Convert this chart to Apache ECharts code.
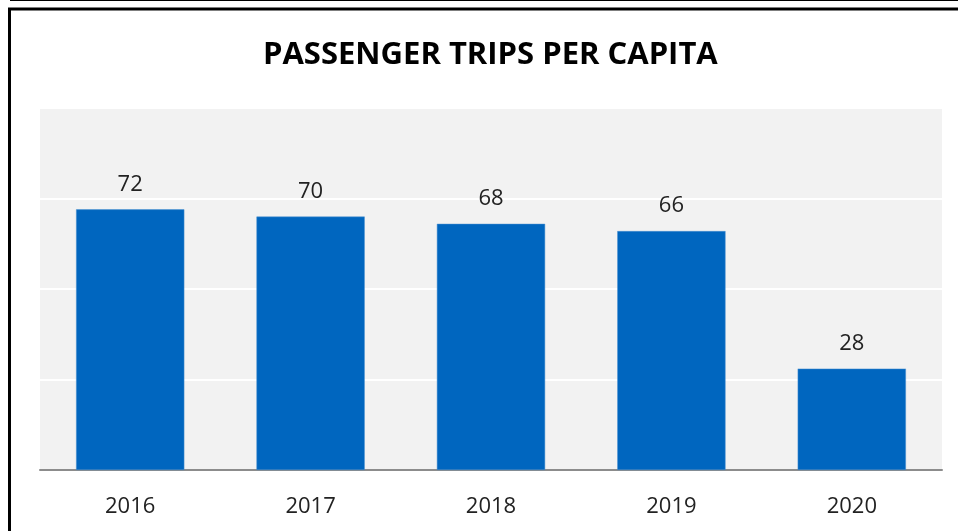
<!DOCTYPE html>
<html>
<head>
<meta charset="utf-8">
<script src="https://cdn.jsdelivr.net/npm/echarts@6/dist/echarts.min.js"></script>
<style>html,body{margin:0;padding:0;background:#fff}#c{width:958px;height:531px}</style>
</head>
<body>
<div id="c"></div>
<script>
const categories = ['2016', '2017', '2018', '2019', '2020'];
const tripsPerCapita = [72, 70, 68, 66, 28];
const titleText = 'PASSENGER TRIPS PER CAPITA';

const chart = echarts.init(document.getElementById('c'), null, {renderer: 'canvas'});
chart.setOption({
  animation: false,
  backgroundColor: '#ffffff',
  title: {
    text: titleText,
    left: 258,
    top: 35,
    textStyle: {fontFamily: 'Open Sans', fontWeight: 'bold', fontSize: 31, color: '#000'}
  },
  graphic: [
    {type: 'line', shape: {x1: 10, y1: 0.5, x2: 958, y2: 0.5}, style: {stroke: '#000', lineWidth: 1}},
    {type: 'line', shape: {x1: 8, y1: 9, x2: 958, y2: 9}, style: {stroke: '#000', lineWidth: 3}},
    {type: 'line', shape: {x1: 9.5, y1: 8, x2: 9.5, y2: 531}, style: {stroke: '#000', lineWidth: 3}}
  ],
  grid: {left: 40, right: 16, top: 108, bottom: 61, show: true, backgroundColor: '#f2f2f2', borderWidth: 0},
  xAxis: {
    type: 'category',
    data: categories,
    axisTick: {show: false},
    axisLine: {show: true, lineStyle: {color: '#8c8c8c', width: 2}},
    axisLabel: {margin: 26, fontFamily: 'Open Sans', fontSize: 22, color: '#222'}
  },
  yAxis: {
    type: 'value',
    min: 0, max: 100, interval: 25,
    axisLabel: {show: false},
    axisLine: {show: false},
    axisTick: {show: false},
    splitLine: {show: true, lineStyle: {color: '#ffffff', width: 2}}
  },
  series: [{
    type: 'bar',
    data: tripsPerCapita,
    barCategoryGap: '40%',
    itemStyle: {color: '#0066bf', borderColor: '#4a90d0', borderWidth: 0.5},
    label: {show: true, position: 'top', distance: 14, fontFamily: 'Open Sans', fontSize: 22, color: '#222'}
  }]
});
</script>
</body>
</html>
